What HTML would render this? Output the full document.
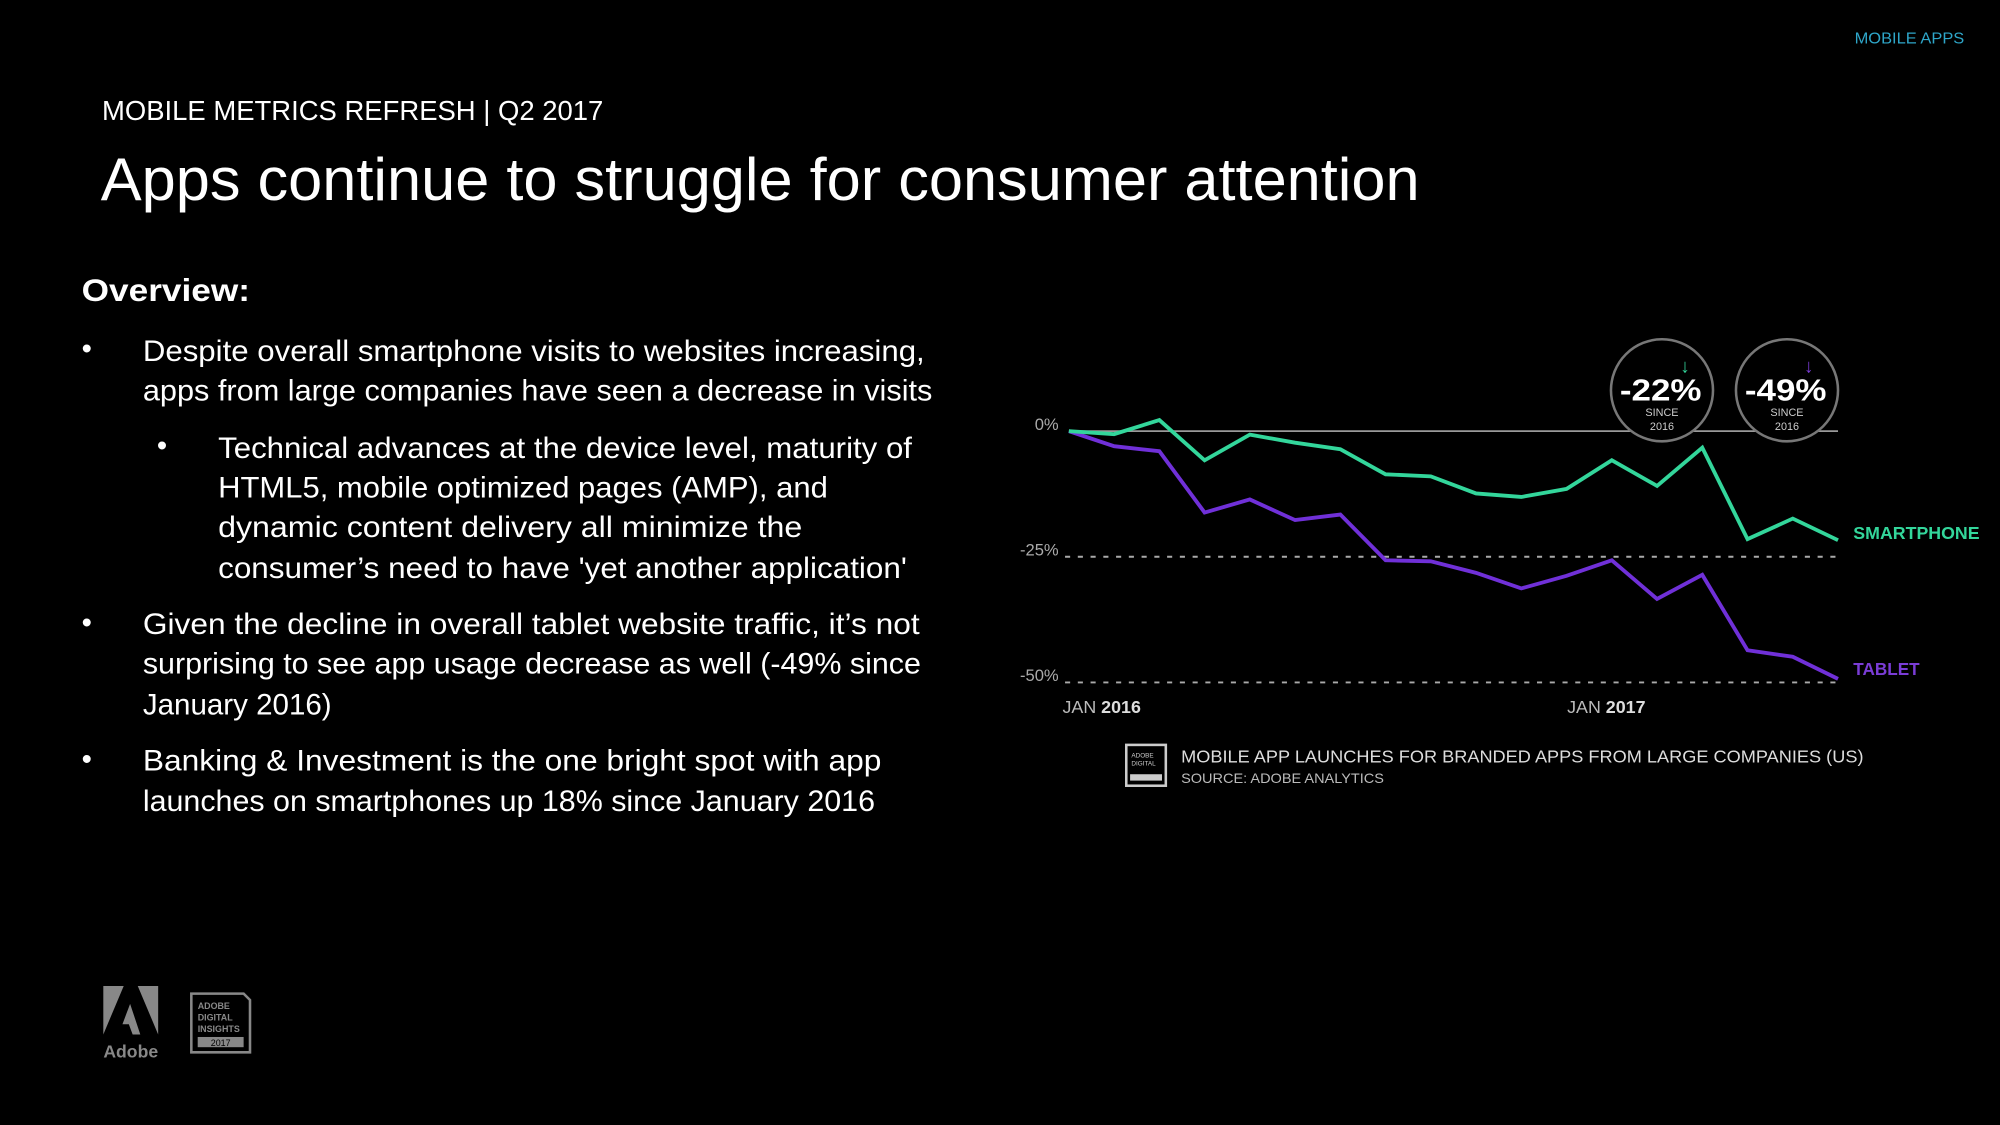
<!DOCTYPE html>
<html><head><meta charset="utf-8"><style>
html,body{margin:0;padding:0;background:#000;width:2000px;height:1125px;overflow:hidden}
svg{display:block}
text{font-family:"Liberation Sans",sans-serif}
</style></head><body>
<svg id="page" width="2000" height="1125" viewBox="0 0 1568 882" xmlns="http://www.w3.org/2000/svg">
<rect width="1568" height="882" fill="#000"/>
<text x="1540" y="34" fill="#2ea6c9" font-size="12" text-anchor="end" textLength="86" lengthAdjust="spacingAndGlyphs">MOBILE APPS</text>
<text x="80" y="94" fill="#fff" font-size="22" textLength="393" lengthAdjust="spacingAndGlyphs">MOBILE METRICS REFRESH | Q2 2017</text>
<text x="79" y="157" fill="#fff" font-size="47" textLength="1034" lengthAdjust="spacingAndGlyphs">Apps continue to struggle for consumer attention</text>

<g fill="#fff" font-size="23">
<text x="64" y="236" font-weight="bold" font-size="25" textLength="132" lengthAdjust="spacingAndGlyphs">Overview:</text>
<text x="64" y="281">•</text>
<text x="112" y="283" textLength="613" lengthAdjust="spacingAndGlyphs">Despite overall smartphone visits to websites increasing,</text>
<text x="112" y="314" textLength="619" lengthAdjust="spacingAndGlyphs">apps from large companies have seen a decrease in visits</text>
<text x="123" y="357">•</text>
<text x="171" y="359" textLength="544" lengthAdjust="spacingAndGlyphs">Technical advances at the device level, maturity of</text>
<text x="171" y="390" textLength="478" lengthAdjust="spacingAndGlyphs">HTML5, mobile optimized pages (AMP), and</text>
<text x="171" y="421" textLength="458" lengthAdjust="spacingAndGlyphs">dynamic content delivery all minimize the</text>
<text x="171" y="453" textLength="540" lengthAdjust="spacingAndGlyphs">consumer’s need to have 'yet another application'</text>
<text x="64" y="496">•</text>
<text x="112" y="497" textLength="609" lengthAdjust="spacingAndGlyphs">Given the decline in overall tablet website traffic, it’s not</text>
<text x="112" y="528" textLength="610" lengthAdjust="spacingAndGlyphs">surprising to see app usage decrease as well (-49% since</text>
<text x="112" y="560" textLength="148" lengthAdjust="spacingAndGlyphs">January 2016)</text>
<text x="64" y="603">•</text>
<text x="112" y="604" textLength="579" lengthAdjust="spacingAndGlyphs">Banking &amp; Investment is the one bright spot with app</text>
<text x="112" y="636" textLength="574" lengthAdjust="spacingAndGlyphs">launches on smartphones up 18% since January 2016</text>
</g>

<g id="chart"></g>

<g>
<circle cx="1303" cy="306" r="40" fill="#000" stroke="#777" stroke-width="2"/>
<text x="1321" y="292" fill="#33d69b" font-size="15" font-weight="bold" text-anchor="middle">↓</text>
<text x="1302" y="314" fill="#fff" font-size="24" font-weight="bold" text-anchor="middle" textLength="64" lengthAdjust="spacingAndGlyphs">-22%</text>
<text x="1303" y="326" fill="#ccc" font-size="8.5" text-anchor="middle">SINCE</text>
<text x="1303" y="337" fill="#ccc" font-size="8.5" text-anchor="middle">2016</text>
</g>
<g>
<circle cx="1401" cy="306" r="40" fill="#000" stroke="#777" stroke-width="2"/>
<text x="1418" y="292" fill="#7a3cd6" font-size="15" font-weight="bold" text-anchor="middle">↓</text>
<text x="1400" y="314" fill="#fff" font-size="24" font-weight="bold" text-anchor="middle" textLength="64" lengthAdjust="spacingAndGlyphs">-49%</text>
<text x="1401" y="326" fill="#ccc" font-size="8.5" text-anchor="middle">SINCE</text>
<text x="1401" y="337" fill="#ccc" font-size="8.5" text-anchor="middle">2016</text>
</g>

<g>
<rect x="883" y="584" width="31" height="32" fill="none" stroke="#ccc" stroke-width="2"/>
<text x="887" y="594" fill="#ccc" font-size="5">ADOBE</text>
<text x="887" y="600" fill="#ccc" font-size="5">DIGITAL</text>
<rect x="886" y="607" width="25" height="5" fill="#ccc"/>
<text x="926" y="598" fill="#ddd" font-size="14" textLength="535" lengthAdjust="spacingAndGlyphs">MOBILE APP LAUNCHES FOR BRANDED APPS FROM LARGE COMPANIES (US)</text>
<text x="926" y="614" fill="#bbb" font-size="11" textLength="159" lengthAdjust="spacingAndGlyphs">SOURCE: ADOBE ANALYTICS</text>
</g>

<g>
<path d="M81,773 H97 L81,811 Z" fill="#888"/>
<path d="M108,773 H124 V811 Z" fill="#888"/>
<path d="M102,787 L110,811 H104 L101,803 H96 Z" fill="#888"/>
<text x="81" y="829" fill="#888" font-size="14" font-weight="bold" textLength="43" lengthAdjust="spacingAndGlyphs">Adobe</text>
</g>
<g>
<path d="M150,779 H191 L196,784 V825 H150 Z" fill="none" stroke="#888" stroke-width="2"/>
<text x="155" y="791" fill="#888" font-size="7" font-weight="bold">ADOBE</text>
<text x="155" y="800" fill="#888" font-size="7" font-weight="bold">DIGITAL</text>
<text x="155" y="809" fill="#888" font-size="7" font-weight="bold">INSIGHTS</text>
<rect x="155" y="813" width="36" height="8" fill="#888"/>
<text x="173" y="820" fill="#000" font-size="7" text-anchor="middle">2017</text>
</g>
</svg>
<script>
const months = ["JAN 2016","FEB","MAR","APR","MAY","JUN","JUL","AUG","SEP","OCT","NOV","DEC","JAN 2017","FEB","MAR","APR","MAY","JUN"];
const smartphone = [0,-0.6,2.2,-5.8,-0.7,-2.3,-3.6,-8.6,-9.0,-12.4,-13.1,-11.5,-5.8,-10.9,-3.3,-21.5,-17.4,-21.7];
const tablet = [0,-3.0,-4.0,-16.2,-13.6,-17.7,-16.6,-25.7,-25.9,-28.2,-31.3,-28.8,-25.7,-33.4,-28.6,-43.6,-44.9,-49.3];
const yTicks = [0,-25,-50];
const yTickLabels = ["0%","-25%","-50%"];

const NS = "http://www.w3.org/2000/svg";
const chart = document.getElementById("chart");
const X0 = 838, X1 = 1441, Y0 = 338, Y50 = 535;
function xs(i){ return X0 + (X1 - X0) * i / (months.length - 1); }
function ys(v){ return Y0 + (Y50 - Y0) * (v / -50); }
function mk(tag, attrs){ const e = document.createElementNS(NS, tag); for (const k in attrs) e.setAttribute(k, attrs[k]); chart.appendChild(e); return e; }

yTicks.forEach((t, i) => {
  const y = ys(t);
  const g = mk("line", {x1: t === 0 ? X0 : 835, x2: X1, y1: y, y2: y, stroke: t === 0 ? "#999" : "#aaa", "stroke-width": t === 0 ? 1.3 : 1.5, "stroke-dasharray": t === 0 ? "none" : "4 6"});
  
  
  const l = mk("text", {x: 830, y: y - 1, fill: "#aaa", "font-size": 13, "text-anchor": "end"});
  l.textContent = yTickLabels[i];
  
  
});

months.forEach((m, i) => {
  if (m.indexOf("JAN") !== 0) return;
  const t = mk("text", {x: xs(i) - (i === 0 ? 5 : 35), y: 559, fill: "#bbb", "font-size": 14});
  const parts = m.split(" ");
  const a = document.createElementNS(NS, "tspan"); a.textContent = parts[0] + " ";
  const b = document.createElementNS(NS, "tspan"); b.textContent = parts[1]; b.setAttribute("font-weight", "bold"); b.setAttribute("fill", "#ddd");
  t.appendChild(a); t.appendChild(b);
  
  
});

function series(vals, color, name){
  const p = mk("polyline", {points: vals.map((v, i) => xs(i) + "," + ys(v)).join(" "), fill: "none", stroke: color, "stroke-width": 3, "stroke-linejoin": "miter"});
  
  
}
series(tablet, "#7030d8", "tablet-line");
series(smartphone, "#33d69b", "smartphone-line");

const s = mk("text", {x: 1453, y: ys(smartphone[smartphone.length - 1]) - 1, fill: "#33d69b", "font-size": 13.5, "font-weight": "bold", textLength: 99, lengthAdjust: "spacingAndGlyphs"});
s.textContent = "SMARTPHONE";


const tl = mk("text", {x: 1453, y: ys(tablet[tablet.length - 1]) - 3, fill: "#7a3cd6", "font-size": 13.5, "font-weight": "bold", textLength: 52, lengthAdjust: "spacingAndGlyphs"});
tl.textContent = "TABLET";


</script>
</body></html>
